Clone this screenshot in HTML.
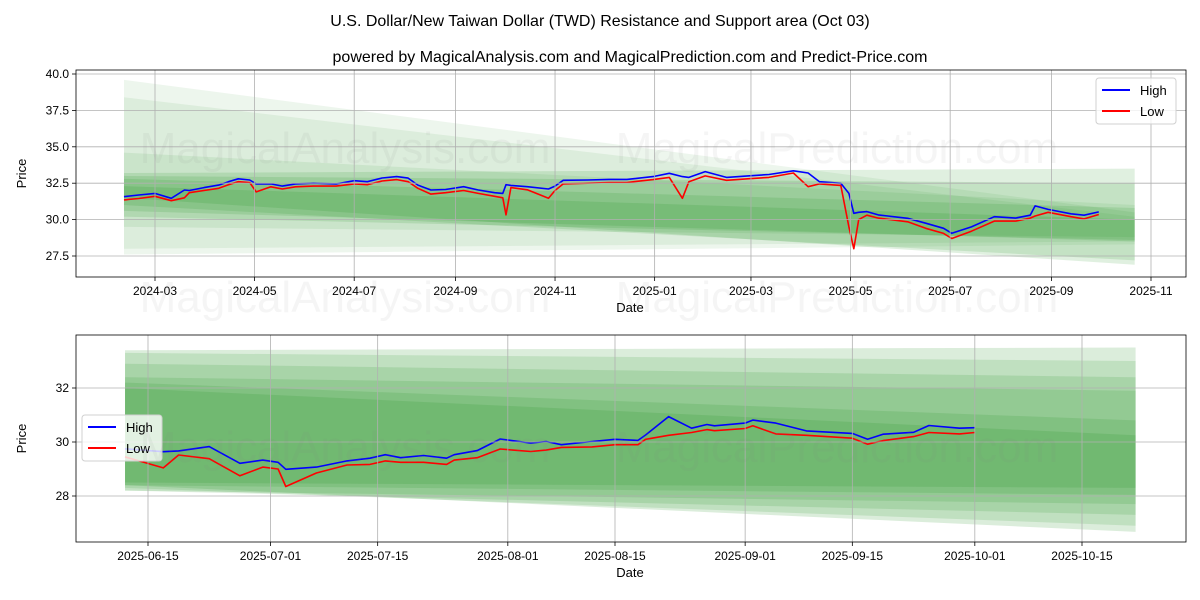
<!DOCTYPE html>
<html><head><meta charset="utf-8"><style>
body{margin:0;background:#fff;width:1200px;height:600px;overflow:hidden;font-family:"Liberation Sans","DejaVu Sans",sans-serif}
svg{display:block}
</style></head><body>
<svg id="chart" width="1200" height="600" xmlns="http://www.w3.org/2000/svg" font-family="Liberation Sans, DejaVu Sans, sans-serif">
<text x="600" y="26" text-anchor="middle" font-size="16" fill="#000">U.S. Dollar/New Taiwan Dollar (TWD) Resistance and Support area (Oct 03)</text>
<text x="630" y="62" text-anchor="middle" font-size="16" fill="#000">powered by MagicalAnalysis.com and MagicalPrediction.com and Predict-Price.com</text>
<g id="top"></g>
<g id="bot"></g>
</svg>
<script>
// ---- top chart data ----
const topDates = ["2024-02-11","2024-02-20","2024-03-01","2024-03-11","2024-03-19","2024-03-22","2024-03-31","2024-04-09","2024-04-15","2024-04-21","2024-04-28","2024-05-02","2024-05-11","2024-05-18","2024-05-26","2024-06-06","2024-06-20","2024-07-01","2024-07-09","2024-07-18","2024-07-27","2024-08-03","2024-08-09","2024-08-17","2024-08-26","2024-09-06","2024-09-15","2024-09-25","2024-09-30","2024-10-02","2024-10-05","2024-10-15","2024-10-28","2024-11-01","2024-11-06","2024-11-21","2024-12-04","2024-12-15","2024-12-31","2025-01-10","2025-01-18","2025-01-22","2025-02-01","2025-02-14","2025-02-27","2025-03-12","2025-03-27","2025-04-05","2025-04-12","2025-04-25","2025-04-30","2025-05-03","2025-05-06","2025-05-11","2025-05-18","2025-06-05","2025-06-16","2025-06-27","2025-07-02","2025-07-14","2025-07-28","2025-08-10","2025-08-19","2025-08-22","2025-08-30","2025-09-13","2025-09-21","2025-09-30"];
const topHigh = [31.57,31.69,31.8,31.46,32.03,32.0,32.2,32.37,32.6,32.8,32.72,32.45,32.45,32.3,32.45,32.5,32.45,32.67,32.6,32.86,32.95,32.85,32.37,32.03,32.07,32.26,32.03,31.85,31.8,32.4,32.35,32.26,32.1,32.3,32.7,32.72,32.76,32.76,32.95,33.18,32.95,32.9,33.3,32.9,33.0,33.1,33.35,33.2,32.6,32.49,31.8,30.43,30.5,30.55,30.32,30.09,29.75,29.4,29.06,29.5,30.2,30.1,30.3,30.94,30.7,30.4,30.3,30.53];
const topLow = [31.35,31.45,31.6,31.3,31.5,31.85,32.0,32.15,32.4,32.6,32.55,31.9,32.25,32.1,32.25,32.3,32.3,32.45,32.4,32.65,32.75,32.6,32.15,31.75,31.85,32.0,31.8,31.6,31.5,30.32,32.2,32.05,31.46,32.0,32.45,32.5,32.55,32.55,32.75,32.9,31.46,32.6,33.0,32.7,32.8,32.9,33.2,32.26,32.45,32.35,29.5,28.0,30.0,30.3,30.1,29.85,29.4,29.05,28.7,29.2,29.9,29.9,30.1,30.25,30.5,30.2,30.05,30.35];
const topYTicks = [27.5,30.0,32.5,35.0,37.5,40.0];
const topXTicks = ["2024-03","2024-05","2024-07","2024-09","2024-11","2025-01","2025-03","2025-05","2025-07","2025-09","2025-11"];
const topBandStart = "2024-02-11", topBandEnd = "2025-10-22";
const topBandTopL = [39.6,38.4,34.6,33.2,33.0,32.8,32.3];
const topBandTopR = [30.5,30.2,31.0,33.5,32.5,30.8,30.0];
const topBandBotL = [27.6,28.0,29.5,31.5,31.0,30.6,30.2];
const topBandBotR = [28.3,28.5,28.8,26.9,27.2,28.5,28.6];
const topBandAlpha = [0.07,0.07,0.08,0.12,0.12,0.12,0.12];
// ---- bottom chart data ----
const botDates = ["2025-06-12","2025-06-17","2025-06-19","2025-06-23","2025-06-27","2025-06-30","2025-07-02","2025-07-03","2025-07-07","2025-07-11","2025-07-14","2025-07-16","2025-07-18","2025-07-21","2025-07-24","2025-07-25","2025-07-28","2025-07-31","2025-08-04","2025-08-06","2025-08-08","2025-08-12","2025-08-15","2025-08-18","2025-08-19","2025-08-22","2025-08-25","2025-08-27","2025-08-28","2025-09-01","2025-09-02","2025-09-05","2025-09-09","2025-09-15","2025-09-17","2025-09-19","2025-09-23","2025-09-25","2025-09-29","2025-10-01"];
const botHigh = [29.75,29.64,29.67,29.83,29.21,29.33,29.25,28.99,29.07,29.3,29.4,29.53,29.42,29.5,29.4,29.53,29.68,30.11,29.96,30.02,29.9,30.02,30.1,30.06,30.26,30.94,30.51,30.65,30.6,30.7,30.81,30.7,30.41,30.32,30.1,30.29,30.36,30.61,30.51,30.53];
const botLow = [29.45,29.04,29.52,29.38,28.75,29.07,29.0,28.35,28.85,29.15,29.17,29.3,29.25,29.25,29.17,29.33,29.42,29.74,29.65,29.7,29.8,29.82,29.9,29.9,30.1,30.25,30.35,30.46,30.42,30.5,30.6,30.3,30.25,30.14,29.92,30.05,30.2,30.35,30.3,30.35];
const botYTicks = [28,30,32];
const botXTicks = ["2025-06-15","2025-07-01","2025-07-15","2025-08-01","2025-08-15","2025-09-01","2025-09-15","2025-10-01","2025-10-15"];
const botBandStart = "2025-06-12", botBandEnd = "2025-10-22";
const botBandTopL = [33.4,33.3,32.9,32.4,32.2,32.0];
const botBandTopR = [33.5,33.0,32.4,31.9,30.8,30.25];
const botBandBotL = [28.4,28.3,28.2,28.2,28.4,28.5];
const botBandBotR = [26.67,26.9,27.3,27.7,28.04,28.3];
const botBandAlpha = [0.14,0.12,0.12,0.12,0.12,0.12];

const NS="http://www.w3.org/2000/svg";
const day = s => { const p=s.split("-").map(Number); return Date.UTC(p[0],p[1]-1,p[2]||1)/86400000; };
function mk(parent,tag,attrs){const e=document.createElementNS(NS,tag);for(const k in attrs)e.setAttribute(k,attrs[k]);parent.appendChild(e);return e;}

function panel(g,cfg){
  const {L,R,T,B,d0,d1,x0,x1,v0,v1}=cfg;
  const X=d=>x0+(day(d)-day(d0))/(day(d1)-day(d0))*(x1-x0);
  const Y=v=>cfg.y0+(v-v0)/(v1-v0)*(cfg.y1-cfg.y0);
  const clip=mk(g,"clipPath",{id:cfg.id+"clip"});
  mk(clip,"rect",{x:L,y:T,width:R-L,height:B-T});
  const inner=mk(g,"g",{"clip-path":"url(#"+cfg.id+"clip)"});
  for(let i=0;i<cfg.bTL.length;i++){
    const xa=X(cfg.bs),xb=X(cfg.be);
    const p=mk(inner,"polygon",{points:`${xa},${Y(cfg.bTL[i])} ${xb},${Y(cfg.bTR[i])} ${xb},${Y(cfg.bBR[i])} ${xa},${Y(cfg.bBL[i])}`,fill:"#008000","fill-opacity":cfg.bA[i]});
    
    
  }
  cfg.xt.forEach(t=>{const x=X(t.length===7?t+"-01":t);
    const l=mk(g,"line",{x1:x,x2:x,y1:T,y2:B,stroke:"#b0b0b0","stroke-width":0.8});
    
    
    mk(g,"line",{x1:x,x2:x,y1:B,y2:B+4,stroke:"#000","stroke-width":0.8});
    const tx=mk(g,"text",{x:x,y:B+18,"text-anchor":"middle","font-size":12,fill:"#000"});tx.textContent=t;
    
    
  });
  cfg.yt.forEach(v=>{const y=Y(v);
    const l=mk(g,"line",{x1:L,x2:R,y1:y,y2:y,stroke:"#b0b0b0","stroke-width":0.8});
    
    
    mk(g,"line",{x1:L-4,x2:L,y1:y,y2:y,stroke:"#000","stroke-width":0.8});
    const tx=mk(g,"text",{x:L-7,y:y+4,"text-anchor":"end","font-size":12,fill:"#000"});tx.textContent=cfg.yfmt(v);
    
    
  });
  [[cfg.lo,"#ff0000","low-line"],[cfg.hi,"#0000ff","high-line"]].forEach(([vals,c,n])=>{
    const pts=cfg.dates.map((d,i)=>X(d).toFixed(1)+","+Y(vals[i]).toFixed(1)).join(" ");
    const pl=mk(inner,"polyline",{points:pts,fill:"none",stroke:c,"stroke-width":1.6,"stroke-linejoin":"round"});
    
    
  });
  const fr=mk(g,"rect",{x:L,y:T,width:R-L,height:B-T,fill:"none",stroke:"#000","stroke-width":0.8});
  
  
  const xl=mk(g,"text",{x:(L+R)/2-1,y:B+35,"text-anchor":"middle","font-size":13});xl.textContent="Date";
  
  
  const yl=mk(g,"text",{x:0,y:0,"text-anchor":"middle","font-size":13,transform:`translate(26,${(T+B)/2}) rotate(-90)`});yl.textContent="Price";
  
  
  const lg=mk(g,"g",{});
  
  
  const [lx,ly]=cfg.leg;
  mk(lg,"rect",{x:lx,y:ly,width:80,height:46,rx:3,fill:"#fff","fill-opacity":0.8,stroke:"#d0d0d0"});
  [["High","#0000ff"],["Low","#ff0000"]].forEach(([t,c],i)=>{
    mk(lg,"line",{x1:lx+6,x2:lx+34,y1:ly+12+i*21,y2:ly+12+i*21,stroke:c,"stroke-width":2});
    const tt=mk(lg,"text",{x:lx+44,y:ly+17+i*21,"font-size":13});tt.textContent=t;
    
    
  });
}
panel(document.getElementById("top"),{id:"t",L:76,R:1186,T:70,B:277,d0:"2024-03-01",d1:"2025-11-01",x0:155,x1:1151,v0:27.5,v1:40,y0:256,y1:74,
  bs:topBandStart,be:topBandEnd,bTL:topBandTopL,bTR:topBandTopR,bBL:topBandBotL,bBR:topBandBotR,bA:topBandAlpha,
  xt:topXTicks,yt:topYTicks,yfmt:v=>v.toFixed(1),dates:topDates,hi:topHigh,lo:topLow,leg:[1096,78]});
panel(document.getElementById("bot"),{id:"b",L:76,R:1186,T:335,B:542,d0:"2025-06-15",d1:"2025-10-15",x0:148,x1:1082,v0:28,v1:32,y0:496,y1:388,
  bs:botBandStart,be:botBandEnd,bTL:botBandTopL,bTR:botBandTopR,bBL:botBandBotL,bBR:botBandBotR,bA:botBandAlpha,
  xt:botXTicks,yt:botYTicks,yfmt:v=>String(v),dates:botDates,hi:botHigh,lo:botLow,leg:[82,415]});
const svg=document.getElementById("chart");
[[345,163,"MagicalAnalysis.com"],[837,163,"MagicalPrediction.com"],[345,312,"MagicalAnalysis.com"],[837,312,"MagicalPrediction.com"],[345,462,"MagicalAnalysis.com"],[837,462,"MagicalPrediction.com"]].forEach(([x,y,t])=>{
  const w=mk(svg,"text",{x:x,y:y,"text-anchor":"middle","font-size":44,fill:"#808080","fill-opacity":0.08});w.textContent=t;
  
  
});
</script>
</body></html>
